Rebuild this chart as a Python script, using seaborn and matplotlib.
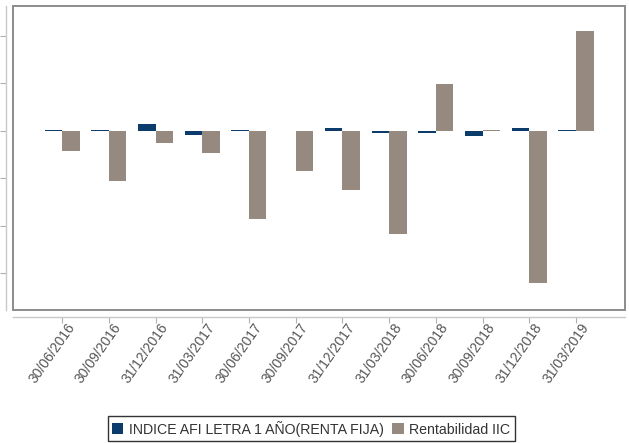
import matplotlib
matplotlib.use("Agg")
import matplotlib.pyplot as plt
from matplotlib.patches import Rectangle
from matplotlib.transforms import ScaledTranslation
import seaborn as sns
import pandas as pd

fechas = ["30/06/2016", "30/09/2016", "31/12/2016", "31/03/2017", "30/06/2017",
          "30/09/2017", "31/12/2017", "31/03/2018", "30/06/2018", "30/09/2018",
          "31/12/2018", "31/03/2019"]
indice_afi = [0.01, 0.01, 0.14, -0.08, 0.01, 0.0, 0.06, -0.05, -0.05, -0.10, 0.06, 0.01]
rentabilidad_iic = [-0.42, -1.05, -0.26, -0.46, -1.85, -0.84, -1.24, -2.18, 0.99, 0.02, -3.21, 2.10]
series = ["INDICE AFI LETRA 1 AÑO(RENTA FIJA)", "Rentabilidad IIC"]
colores = ["#0b3c6c", "#968a80"]

df = pd.DataFrame({
    "fecha": fechas * 2,
    "valor": indice_afi + rentabilidad_iic,
    "serie": [series[0]] * len(fechas) + [series[1]] * len(fechas),
})

sns.set_theme(style="white")
plt.rcParams["font.family"] = ["Liberation Sans", "DejaVu Sans"]

fig = plt.figure(figsize=(6.29, 4.43), dpi=100)
ax = fig.add_axes([0.0207, 0.3002, 0.9730, 0.6862])

sns.barplot(data=df, x="fecha", y="valor", hue="serie", order=fechas,
            hue_order=series, palette=colores, width=0.75, saturation=1,
            linewidth=0, ax=ax, legend=True)

ax.set_xlim(-1.05, len(fechas) - 1 + 1.05)
ax.set_ylim(-3.77, 2.63)
ax.set_yticks([-3, -2, -1, 0, 1, 2])
ax.set_yticklabels([])
ax.set_xlabel("")
ax.set_ylabel("")

# plot frame
ax.add_patch(Rectangle((0, 0), 1, 1, transform=ax.transAxes, fill=False,
                       edgecolor="#8c8c8c", linewidth=1.4, clip_on=False, zorder=5))

# detached axis lines carrying the ticks
for side in ["top", "right"]:
    ax.spines[side].set_visible(False)
for side in ["left", "bottom"]:
    ax.spines[side].set_position(("outward", 5))
    ax.spines[side].set_color("#c8c8c8")
    ax.spines[side].set_linewidth(1.0)

ax.tick_params(axis="y", left=True, length=4, color="#b0b0b0", width=0.8)
ax.tick_params(axis="x", bottom=True, length=4, color="#b0b0b0", width=0.8,
               labelsize=10, labelcolor="#555555", pad=1)
shift = ScaledTranslation(4 / 100, 3 / 100, fig.dpi_scale_trans)
for lbl in ax.get_xticklabels():
    lbl.set_rotation(55)
    lbl.set_ha("right")
    lbl.set_rotation_mode("anchor")
    lbl.set_transform(lbl.get_transform() + shift)

ax.get_legend().remove()
handles = [Rectangle((0, 0), 1, 1, facecolor=c, edgecolor="none") for c in colores]
leg = fig.legend(handles, series, loc="lower center", bbox_to_anchor=(0.495, 0.005),
                 ncol=2, frameon=True, fancybox=False, fontsize=10.2,
                 handlelength=0.8, handleheight=0.8, handletextpad=0.4,
                 columnspacing=0.6, borderpad=0.3, borderaxespad=0)
leg.get_frame().set_edgecolor("black")
leg.get_frame().set_linewidth(1.0)
for t in leg.get_texts():
    t.set_color("#333333")

fig.savefig("out.png", dpi=100, facecolor="white")
